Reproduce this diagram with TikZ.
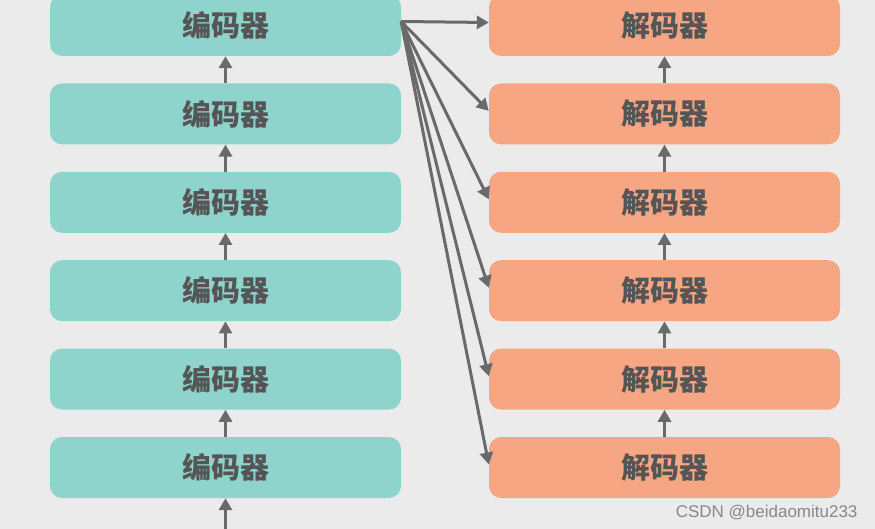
\documentclass[tikz,border=0pt]{standalone}
\usepackage{fontspec}
\usepackage{xcolor}
\newfontfamily\cjk{Noto Sans CJK SC}
\setmainfont{Liberation Sans}
\usetikzlibrary{arrows.meta, positioning}

\definecolor{bgcol}{HTML}{EBEBEB}
\definecolor{enccol}{HTML}{8FD4CC}
\definecolor{deccol}{HTML}{F7A683}
\definecolor{txtcol}{HTML}{555555}
\definecolor{arrcol}{HTML}{6A6A6A}

\tikzset{
  block/.style={rounded corners=12pt, minimum width=351pt, minimum height=61pt,
    inner sep=0pt, text=txtcol, font=\cjk\bfseries\fontsize{29}{29}\selectfont},
  encblock/.style={block, fill=enccol},
  decblock/.style={block, fill=deccol},
  link/.style={draw=arrcol, line width=3pt, -{Triangle[length=12pt, width=13pt]}}
}

\begin{document}
\begin{tikzpicture}[x=1pt, y=-1pt]
\fill[bgcol] (0,0) rectangle (875,529);
\useasboundingbox (0,0) rectangle (875,529);

% encoder and decoder stacks, bottom to top
\foreach \i in {1,...,6} {
  \node[encblock] (enc\i) at (225.5, 467.5-88.4*\i+88.4) {编码器};
  \node[decblock] (dec\i) at (664.5, 467.5-88.4*\i+88.4) {解码器};
}

\coordinate (input) at (225.5, 529);
\draw[link] (input) -- (enc1.south);
\foreach \i [evaluate=\i as \j using int(\i+1)] in {1,...,5} {
  \draw[link] (enc\i.north) -- (enc\j.south);
  \draw[link] (dec\i.north) -- (dec\j.south);
}

% last encoder feeds every decoder
\coordinate (out) at ([yshift=4pt]enc6.east);
\foreach \i in {1,...,6}
  \draw[link] (out) -- ([yshift=3pt]dec\i.west);

\node[text=arrcol!80, font=\fontsize{17}{17}\selectfont, anchor=east] (mark) at (861, 513) {CSDN @beidaomitu233};
\end{tikzpicture}
\end{document}
